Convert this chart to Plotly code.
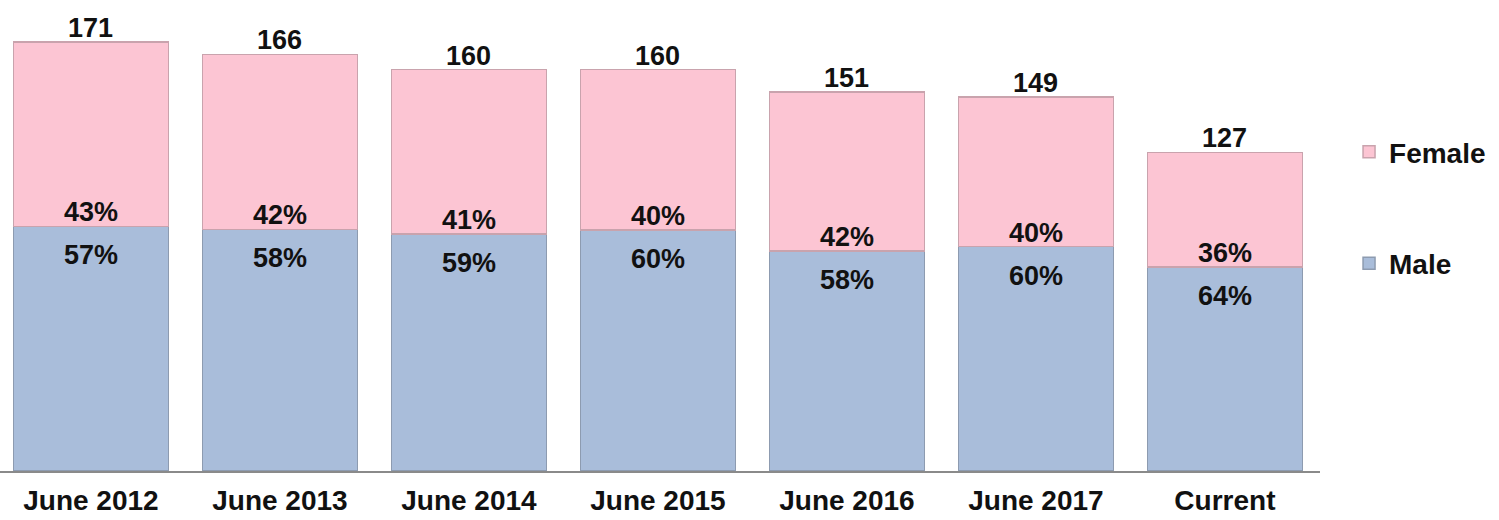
import plotly.graph_objects as go

# headcount by gender
periods = ["June 2012", "June 2013", "June 2014", "June 2015", "June 2016", "June 2017", "Current"]
totals = [171, 166, 160, 160, 151, 149, 127]
male_pct = [57, 58, 59, 60, 58, 60, 64]
female_pct = [43, 42, 41, 40, 42, 40, 36]

male = [t * p / 100 for t, p in zip(totals, male_pct)]
female = [t - m for t, m in zip(totals, male)]

FONT = "Liberation Sans, Arial, sans-serif"
PINK = "#FCC5D3"
BLUE = "#A9BDDA"
LABEL = dict(size=27, color="#111111", family=FONT, weight="bold")

fig = go.Figure()

fig.add_trace(go.Bar(
    x=periods, y=male, name="Male",
    marker=dict(color=BLUE, line=dict(color="#8d9bb0", width=1.5)),
    legendgroup="m", legendrank=2, hoverinfo="skip",
))
fig.add_trace(go.Bar(
    x=periods, y=female, name="Female",
    marker=dict(color=PINK, line=dict(color="#c9a3ad", width=1.5)),
    legendgroup="f", legendrank=1, hoverinfo="skip",
))

# percentage labels either side of the male/female boundary, totals on top
for p, m, t, mp, fp in zip(periods, male, totals, male_pct, female_pct):
    fig.add_annotation(x=p, y=m, text=f"{fp}%", showarrow=False,
                       yanchor="bottom", yshift=-3, font=LABEL)
    fig.add_annotation(x=p, y=m, text=f"{mp}%", showarrow=False,
                       yanchor="top", yshift=-12, font=LABEL)
    fig.add_annotation(x=p, y=t, text=str(t), showarrow=False,
                       yanchor="bottom", yshift=-3, font=LABEL)

fig.update_layout(
    width=1499, height=520,
    barmode="stack", bargap=0.18,
    margin=dict(l=0, r=179, t=0, b=49, autoexpand=False),
    paper_bgcolor="white", plot_bgcolor="white",
    font=dict(family=FONT, size=27, color="#111111", weight="bold"),
    legend=dict(
        x=1.022, xanchor="left", y=0.73, yanchor="top",
        traceorder="grouped", tracegroupgap=72,
        font=dict(size=28, family=FONT, weight="bold"),
        itemwidth=30,
    ),
)
fig.update_xaxes(
    showline=True, linecolor="#8a8a8a", linewidth=1.5,
    ticks="", showgrid=False, range=[-0.481, 6.503],
    ticklabelstandoff=4, automargin=False,
    tickfont=dict(size=28, family=FONT, weight="bold", color="#111111"),
)
fig.update_yaxes(visible=False, range=[0, 187.7], automargin=False)

# the page body has a default 8px margin; drop it so the figure sits at 0,0
fig.write_html("out.html", config={"displayModeBar": False},
               post_script="document.body.style.margin='0';")
